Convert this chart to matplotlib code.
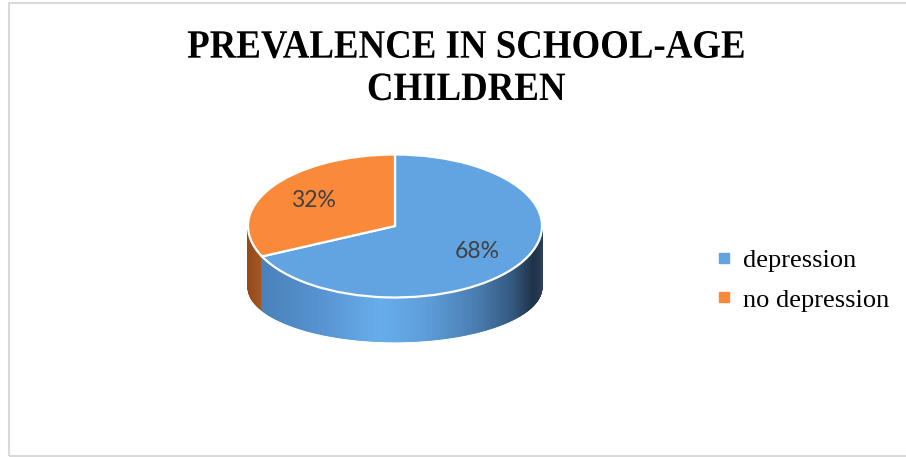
import numpy as np
import matplotlib
matplotlib.use("Agg")
import matplotlib.pyplot as plt
from matplotlib.collections import PolyCollection
from matplotlib.lines import Line2D
from matplotlib.patches import Rectangle
from matplotlib.patheffects import AbstractPathEffect
from matplotlib.transforms import Affine2D

# datos
etiquetas = ["depression", "no depression"]
valores = [68, 32]
colores_sup = ["#62a4e2", "#fa8a3a"]
titulo = "PREVALENCE IN SCHOOL-AGE\nCHILDREN"

W, H = 906, 457
fig = plt.figure(figsize=(W / 100, H / 100), dpi=100)


class Estrechar(AbstractPathEffect):
    """Comprime el texto en horizontal alrededor del centro de cada línea."""

    def __init__(self, sx):
        super().__init__()
        self.sx = sx

    def draw_path(self, renderer, gc, tpath, affine, rgbFace=None):
        ext = tpath.get_extents(affine)
        cx = (ext.x0 + ext.x1) / 2
        aff = affine + Affine2D().translate(-cx, 0).scale(self.sx, 1).translate(cx, 0)
        renderer.draw_path(gc, tpath, aff, rgbFace)


# marco gris
fig.add_artist(Rectangle((8.5 / W, 1.0 / H), 1.2, (H - 4.0) / H,
                         transform=fig.transFigure, fill=False,
                         edgecolor="#d9d9d9", linewidth=1.5))

# titulo (la linea base corresponde a la ultima linea)
fig.text(466 / W, 1 - 100 / H, titulo, ha="center", va="baseline",
         fontsize=29, fontweight="bold", family="Liberation Serif",
         linespacing=1.19, path_effects=[Estrechar(0.915)])

# geometria del pastel en pixeles
cx, cy, a, b = 395, 226, 147, 71.5
prof, b_inf = 0.86, 0.76          # profundidad y semieje de la base (unidades de b)
x0, x1 = -1.2, 1.2
y0, y1 = -2.2, 1.2
ax = fig.add_axes([(cx + x0 * a) / W, 1 - (cy - y0 * b) / H,
                   (x1 - x0) * a / W, (y1 - y0) * b / H])

# paredes laterales con sombreado segun posicion
frac = np.array(valores, dtype=float) / sum(valores)
corte = 90 - 360 * frac[0] + 360   # angulo donde termina "depression"

paradas_cos = [-1.0, -0.92, -0.5, -0.1, 0.2, 0.55, 0.8, 0.95, 1.0]
azul_paradas = ["#4a7cb2", "#4a80b8", "#5693d0", "#66adeb", "#5d9edb",
                "#4a7eb2", "#345a80", "#1e3248", "#2a4058"]
naranja_paradas = ["#94491a", "#a3561f", "#b8652a", "#d07030", "#d07030",
                   "#d07030", "#d07030", "#d07030", "#d07030"]


def color_en(cosv, paradas):
    rgb = np.array([matplotlib.colors.to_rgb(c) for c in paradas])
    return tuple(np.interp(cosv, paradas_cos, rgb[:, k]) for k in range(3))


angs = np.linspace(180, 360, 361)
polys, cols = [], []
for t1, t2 in zip(angs[:-1], angs[1:]):
    r1, r2 = np.radians(t1), np.radians(t2)
    quad = [(np.cos(r1), np.sin(r1)), (np.cos(r2), np.sin(r2)),
            (np.cos(r2), -prof + b_inf * np.sin(r2)),
            (np.cos(r1), -prof + b_inf * np.sin(r1))]
    tm = (t1 + t2) / 2
    paradas = naranja_paradas if tm < corte else azul_paradas
    polys.append(quad)
    cols.append(color_en(np.cos(np.radians(tm)), paradas))

ax.add_collection(PolyCollection(polys, facecolors=cols, edgecolors=cols,
                                 linewidths=0.6, zorder=1))

# cara superior
cunas, _, textos = ax.pie(valores, colors=colores_sup, startangle=90,
                          counterclock=False, autopct="%.0f%%",
                          pctdistance=0.66,
                          wedgeprops=dict(edgecolor="white", linewidth=1.6),
                          textprops=dict(color="#404040", fontsize=16.5,
                                         family="Lato"))
for c in cunas:
    c.set_zorder(2)
for t in textos:
    t.set_zorder(3)

ax.set_aspect("auto")
ax.set_xlim(x0, x1)
ax.set_ylim(y0, y1)
ax.axis("off")

# leyenda
manijas = [Line2D([], [], marker="s", linestyle="", markersize=6.5,
                  markerfacecolor=c, markeredgecolor=c) for c in colores_sup]
fig.legend(manijas, etiquetas, loc="center left",
           bbox_to_anchor=(713 / W, 1 - 280 / H), frameon=False,
           prop=dict(family="Liberation Serif", size=19),
           handlelength=0.8, handletextpad=0.35, labelspacing=0.62,
           borderaxespad=0, borderpad=0)

fig.savefig("out.png", dpi=100)
